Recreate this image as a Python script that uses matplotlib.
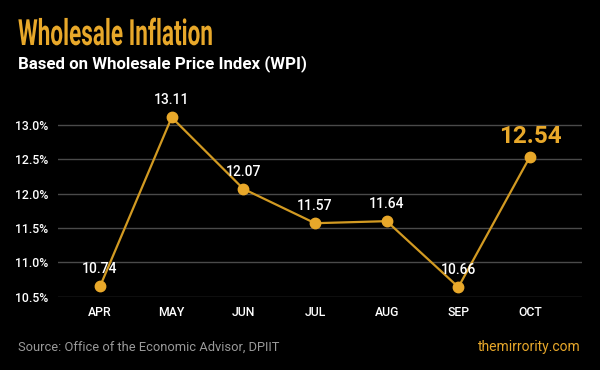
import matplotlib
matplotlib.use("Agg")
import matplotlib.pyplot as plt
from matplotlib.patheffects import AbstractPathEffect
from matplotlib.transforms import Affine2D

# data
months = ["APR", "MAY", "JUN", "JUL", "AUG", "SEP", "OCT"]
wpi = [10.65, 13.11, 12.07, 11.57, 11.60, 10.64, 12.54]   # plotted positions
point_labels = ["10.74", "13.11", "12.07", "11.57", "11.64", "10.66", "12.54"]
yticks = [10.5, 11.0, 11.5, 12.0, 12.5, 13.0]
ytick_labels = ["10.5%", "11.0%", "11.5%", "12.0%", "12.5%", "13.0%"]

gold = "#E8A82A"
line_gold = "#D29A22"


class Squeeze(AbstractPathEffect):
    # squeeze the glyphs horizontally around the text origin (condensed look)
    def __init__(self, sx):
        super().__init__()
        self.sx = sx

    def draw_path(self, renderer, gc, tpath, affine, rgbFace=None):
        x0, y0 = affine.transform((0, 0))
        tr = affine + Affine2D().translate(-x0, 0).scale(self.sx, 1).translate(x0, 0)
        renderer.draw_path(gc, tpath, tr, rgbFace)


plt.rcParams["font.family"] = ["Roboto", "DejaVu Sans"]

fig = plt.figure(figsize=(6, 3.7), dpi=100, facecolor="black")
ax = fig.add_axes([0.0967, 0.198, 0.8733, 0.520])
ax.set_facecolor("black")

x = list(range(len(months)))
ax.plot(x, wpi, color=line_gold, lw=1.6, marker="o", ms=7.5,
        markerfacecolor=gold, markeredgecolor=gold, zorder=3)

for i, (v, lab) in enumerate(zip(wpi, point_labels)):
    if i == len(months) - 1:
        ax.annotate(lab, (i, v), xytext=(0, 14.8), textcoords="offset points",
                    ha="center", va="center", color=gold, fontsize=17.5,
                    fontweight="bold")
    else:
        ax.annotate(lab, (i, v), xytext=(0, 12.4), textcoords="offset points",
                    ha="center", va="center", color="white", fontsize=10,
                    fontweight="medium")

ax.set_xlim(-0.586, 6.725)
ax.set_ylim(10.5, 13.3)
ax.set_yticks(yticks)
ax.set_yticklabels(ytick_labels)
ax.set_xticks(x)
ax.set_xticklabels(months)
ax.grid(axis="y", color="#4a4a4a", lw=1)
ax.set_axisbelow(True)
for s in ax.spines.values():
    s.set_visible(False)
ax.tick_params(axis="both", length=0, colors="white", labelsize=8.8)
ax.tick_params(axis="y", pad=7)
ax.tick_params(axis="x", pad=6.5)
for t in ax.get_xticklabels() + ax.get_yticklabels():
    t.set_fontweight("medium")

title = fig.text(0.03, 370 - 45, "Wholesale Inflation", color=gold, fontsize=26,
                 fontweight="bold", va="baseline", transform=None)
# fit the title into the narrow width of the reference
fig.canvas.draw()
w = title.get_window_extent(fig.canvas.get_renderer()).width
title.set_x(18)
title.set_path_effects([Squeeze(195.0 / w)])

fig.text(0.03, 0.828, "Based on Wholesale Price Index (WPI)", color="white",
         fontsize=12.2, fontweight="bold", va="center")
fig.text(0.03, 0.062, "Source: Office of the Economic Advisor, DPIIT",
         color="#9a9a9a", fontsize=9.3, va="center")
fig.text(0.968, 0.062, "themirrority.com", color=gold, fontsize=10,
         ha="right", va="center")

fig.savefig("out.png", dpi=100, facecolor="black")
